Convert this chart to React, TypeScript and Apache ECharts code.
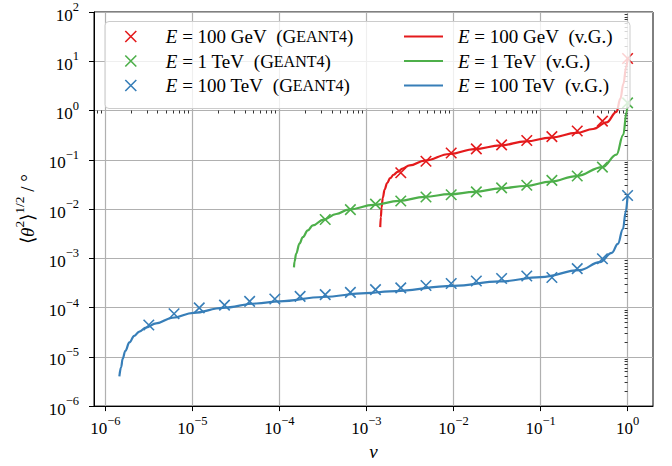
import React, { useEffect, useRef } from "react";
import * as echarts from "echarts";

// ---- data (nu, rms angle in degrees) ----
const nu100GeVGeant4 = [2.48e-3, 4.83e-3, 9.41e-3, 1.83e-2, 3.57e-2, 6.95e-2, 0.135, 0.264, 0.514, 1];
const theta100GeVGeant4 = [5.45e-2, 9.35e-2, 0.137, 0.167, 0.201, 0.247, 0.296, 0.385, 0.61, 11.4];

const nu1TeVGeant4 = [3.36e-4, 6.54e-4, 1.27e-3, 2.48e-3, 4.83e-3, 9.41e-3, 1.83e-2, 3.57e-2, 6.95e-2, 0.135, 0.264, 0.514, 1];
const theta1TeVGeant4 = [6.12e-3, 9.73e-3, 1.26e-2, 1.46e-2, 1.76e-2, 1.95e-2, 2.23e-2, 2.69e-2, 3.05e-2, 3.82e-2, 4.68e-2, 7.1e-2, 1.43];

const nu100TeVGeant4 = [3.16e-6, 6.16e-6, 1.2e-5, 2.34e-5, 4.55e-5, 8.86e-5, 1.73e-4, 3.36e-4, 6.54e-4, 1.27e-3, 2.48e-3, 4.83e-3, 9.41e-3, 1.83e-2, 3.57e-2, 6.95e-2, 0.135, 0.264, 0.514, 1];
const theta100TeVGeant4 = [4.44e-5, 7.48e-5, 9.86e-5, 1.12e-4, 1.34e-4, 1.49e-4, 1.69e-4, 1.83e-4, 2.04e-4, 2.31e-4, 2.51e-4, 2.81e-4, 3.08e-4, 3.47e-4, 3.89e-4, 4.37e-4, 4.07e-4, 6.17e-4, 9.79e-4, 1.88e-2];

const nu100GeVvG = [1.44e-3, 1.462e-3, 1.493e-3, 1.542e-3, 1.617e-3, 1.728e-3, 1.871e-3, 2.052e-3, 2.282e-3, 2.604e-3, 3.134e-3, 4.67e-3, 9.03e-3, 1.75e-2, 3.46e-2, 6.76e-2, 0.131, 0.259, 0.402, 0.573, 0.746, 0.826, 0.895, 0.964, 1];
const theta100GeVvG = [4.3e-3, 6.82e-3, 1.081e-2, 1.717e-2, 2.485e-2, 3.354e-2, 4.225e-2, 4.967e-2, 5.706e-2, 6.645e-2, 7.701e-2, 9.62e-2, 0.131, 0.165, 0.196, 0.236, 0.283, 0.351, 0.422, 0.574, 0.942, 1.74, 3.48, 7.64, 11.4];

const nu1TeVvG = [1.47e-4, 1.49e-4, 1.56e-4, 1.7e-4, 1.86e-4, 2.12e-4, 2.42e-4, 3.21e-4, 4.5e-4, 6.24e-4, 1.21e-3, 2.36e-3, 4.67e-3, 9.03e-3, 1.75e-2, 3.46e-2, 6.76e-2, 0.131, 0.259, 0.515, 0.746, 0.891, 0.975, 1];
const theta1TeVvG = [6.55e-4, 8.53e-4, 1.25e-3, 1.99e-3, 2.7e-3, 3.69e-3, 4.65e-3, 6.12e-3, 7.94e-3, 9.73e-3, 1.22e-2, 1.46e-2, 1.77e-2, 2.0e-2, 2.23e-2, 2.64e-2, 2.94e-2, 3.6e-2, 4.68e-2, 7.1e-2, 0.127, 0.319, 0.942, 1.43];

const nu100TeVvG = [1.45e-6, 1.52e-6, 1.58e-6, 1.7e-6, 1.89e-6, 2.15e-6, 2.46e-6, 2.94e-6, 3.83e-6, 5.94e-6, 1.03e-5, 2.23e-5, 5.41e-5, 1.0e-4, 3.16e-4, 9.95e-4, 1.85e-3, 1.0e-2, 3.4e-2, 0.101, 0.282, 0.48, 0.659, 0.773, 0.883, 0.955, 1];
const theta100TeVvG = [4.02e-6, 6.17e-6, 9.1e-6, 1.33e-5, 1.96e-5, 2.67e-5, 3.26e-5, 3.92e-5, 4.8e-5, 6.21e-5, 7.83e-5, 9.86e-5, 1.21e-4, 1.34e-4, 1.64e-4, 1.97e-4, 2.13e-4, 2.75e-4, 3.39e-4, 4.17e-4, 5.75e-4, 8.34e-4, 1.29e-3, 1.96e-3, 3.92e-3, 8.99e-3, 1.88e-2];

// tick labels (powers of ten)
const xTickExponents = [-6, -5, -4, -3, -2, -1, 0];
const yTickExponents = [-6, -5, -4, -3, -2, -1, 0, 1, 2];

const legendNamesGeant4 = ["100 GeV (Geant4)", "1 TeV (Geant4)", "100 TeV (Geant4)"];
const legendNamesVG = ["100 GeV (v.G.)", "1 TeV (v.G.)", "100 TeV (v.G.)"];

const RED = "#e41a1c";
const GREEN = "#4daf4a";
const BLUE = "#377eb8";
const FONT = "'Liberation Serif', 'Times New Roman', serif";

const toLog = (xs: number[], ys: number[]) => xs.map((x, i) => [Math.log10(x), Math.log10(ys[i])]);

const minorTicks = (lo: number, hi: number, from: number, to: number) => {
  const out: number[] = [];
  for (let n = from; n <= to; n++) {
    for (let k = 2; k <= 9; k++) {
      const v = n + Math.log10(k);
      if (v >= lo && v <= hi) out.push(v);
    }
  }
  return out;
};

const X_MIN = -6.13;
const X_MAX = 0.292;
const Y_MIN = -6;
const Y_MAX = 2;

const powLabel = (v: number) => {
  const e = Math.round(v);
  return `{b|10}{s|${e < 0 ? "\u2212" + Math.abs(e) : e}}`;
};

const tickRich = {
  b: { fontFamily: FONT, fontSize: 17, color: "#000", padding: [6, 0, 0, 0], verticalAlign: "bottom" },
  s: { fontFamily: FONT, fontSize: 12.5, color: "#000", verticalAlign: "top" },
};

const legendRich = {
  i: { fontFamily: FONT, fontSize: 19, fontStyle: "italic", color: "#000", lineHeight: 20 },
  t: { fontFamily: FONT, fontSize: 19, color: "#000", lineHeight: 20 },
  sc: { fontFamily: FONT, fontSize: 16, color: "#000", lineHeight: 20 },
};

const legendFormat = (name: string) => {
  const m = name.match(/^(\S+) (\S+) \((.*)\)$/);
  if (!m) return name;
  const [, num, unit, src] = m;
  const srcTxt = src === "Geant4" ? "{t|(G}{sc|EANT4}{t|)}" : "{t|(v.G.)}";
  return `{i|E}{t| = ${num} ${unit}  }${srcTxt}`;
};

export default function App() {
  const ref = useRef<HTMLDivElement>(null);
  useEffect(() => {
    if (!ref.current) return;
    const chart = echarts.init(ref.current, null, { renderer: "svg" });
    const scatterStyle = (c: string) => ({
      color: "transparent",
      borderColor: c,
      borderWidth: 1.6,
      opacity: 1,
    });
    const cross = "path://M0,0L10,10M0,10L10,0";
    const option: any = {
      animation: false,
      grid: {
        left: 94,
        right: 19,
        top: 12,
        bottom: 55,
        show: true,
        borderColor: "#000",
        borderWidth: 1,
        backgroundColor: "transparent",
      },
      xAxis: [
        {
          type: "value",
          min: X_MIN,
          max: X_MAX,
          name: "\u03bd",
          nameLocation: "middle",
          nameGap: 33,
          nameTextStyle: { fontFamily: FONT, fontSize: 19, fontStyle: "italic", color: "#000" },
          axisLine: { show: true, onZero: false, lineStyle: { color: "#000", width: 1 } },
          axisTick: { show: true, inside: false, length: 5, customValues: xTickExponents, lineStyle: { color: "#000", width: 1 } },
          axisLabel: { show: true, margin: 8, customValues: xTickExponents, formatter: powLabel, rich: tickRich },
          splitLine: { show: true, lineStyle: { color: "#b0b0b0", width: 1.2 } },
        },
        {
          type: "value",
          min: X_MIN,
          max: X_MAX,
          position: "bottom",
          axisLine: { show: false },
          axisTick: { show: true, inside: false, length: 3, customValues: minorTicks(X_MIN, X_MAX, -7, 0), lineStyle: { color: "#000", width: 0.8 } },
          axisLabel: { show: false },
          splitLine: { show: false },
        },
      ],
      yAxis: [
        {
          type: "value",
          min: Y_MIN,
          max: Y_MAX,
          name: "{t|\u27e8}{i|\u03b8}{s|2}{t|\u27e9}{s|1/2}{t| / \u00b0}",
          nameLocation: "middle",
          nameRotate: 90,
          nameGap: 57,
          nameTextStyle: {
            rich: {
              t: { fontFamily: FONT, fontSize: 19, color: "#000", padding: [6, 0, 0, 0], verticalAlign: "bottom" },
              i: { fontFamily: FONT, fontSize: 19, fontStyle: "italic", color: "#000", padding: [6, 0, 0, 0], verticalAlign: "bottom" },
              s: { fontFamily: FONT, fontSize: 13.5, color: "#000", verticalAlign: "top" },
            },
          },
          axisLine: { show: true, onZero: false, lineStyle: { color: "#000", width: 1 } },
          axisTick: { show: true, inside: false, length: 5, customValues: yTickExponents, lineStyle: { color: "#000", width: 1 } },
          axisLabel: { show: true, margin: 15, customValues: yTickExponents, formatter: powLabel, rich: tickRich },
          splitLine: { show: true, lineStyle: { color: "#b0b0b0", width: 1.2 } },
        },
        {
          type: "value",
          min: Y_MIN,
          max: Y_MAX,
          position: "left",
          axisLine: { show: false },
          axisTick: { show: true, inside: false, length: 3, customValues: minorTicks(Y_MIN, Y_MAX, -6, 1), lineStyle: { color: "#000", width: 0.8 } },
          axisLabel: { show: false },
          splitLine: { show: false },
        },
      ],
      legend: [
        {
          data: legendNamesGeant4,
          orient: "vertical",
          left: 124.5,
          top: 27,
          itemWidth: 60,
          itemHeight: 11,
          itemGap: 5.5,
          padding: 0,
          selectedMode: false,
          z: 12,
          formatter: legendFormat,
          textStyle: { fontFamily: FONT, fontSize: 19, rich: legendRich },
          itemStyle: { borderWidth: 1.6 },
        },
        {
          data: legendNamesVG,
          orient: "vertical",
          left: 404,
          top: 27,
          icon: "rect",
          itemWidth: 39,
          itemHeight: 2.2,
          itemGap: 5.5,
          padding: 0,
          selectedMode: false,
          z: 12,
          formatter: legendFormat,
          textStyle: { fontFamily: FONT, fontSize: 19, rich: legendRich, padding: [0, 0, 0, 10] },
        },
      ],
      graphic: [
        {
          type: "rect",
          z: 10,
          shape: { x: 105, y: 21.5, width: 525, height: 87, r: 4 },
          style: { fill: "rgba(255,255,255,0.8)", stroke: "#cccccc", lineWidth: 1 },
        },
      ],
      series: [
        { name: legendNamesGeant4[0], type: "scatter", data: toLog(nu100GeVGeant4, theta100GeVGeant4), symbol: cross, symbolSize: 10.5, itemStyle: scatterStyle(RED), z: 3 },
        { name: legendNamesGeant4[1], type: "scatter", data: toLog(nu1TeVGeant4, theta1TeVGeant4), symbol: cross, symbolSize: 10.5, itemStyle: scatterStyle(GREEN), z: 3 },
        { name: legendNamesGeant4[2], type: "scatter", data: toLog(nu100TeVGeant4, theta100TeVGeant4), symbol: cross, symbolSize: 10.5, itemStyle: scatterStyle(BLUE), z: 3 },
        { name: legendNamesVG[0], type: "line", data: toLog(nu100GeVvG, theta100GeVvG), symbol: "none", smooth: 0.4, smoothMonotone: "x", lineStyle: { color: RED, width: 2.2 }, itemStyle: { color: RED }, z: 2 },
        { name: legendNamesVG[1], type: "line", data: toLog(nu1TeVvG, theta1TeVvG), symbol: "none", smooth: 0.4, smoothMonotone: "x", lineStyle: { color: GREEN, width: 2.2 }, itemStyle: { color: GREEN }, z: 2 },
        { name: legendNamesVG[2], type: "line", data: toLog(nu100TeVvG, theta100TeVvG), symbol: "none", smooth: 0.4, smoothMonotone: "x", lineStyle: { color: BLUE, width: 2.2 }, itemStyle: { color: BLUE }, z: 2 },
      ],
    };
    chart.setOption(option);
    return () => chart.dispose();
  }, []);
  return <div ref={ref} style={{ position: "fixed", left: 0, top: 0, width: 672, height: 466, background: "#fff" }} />;
}
